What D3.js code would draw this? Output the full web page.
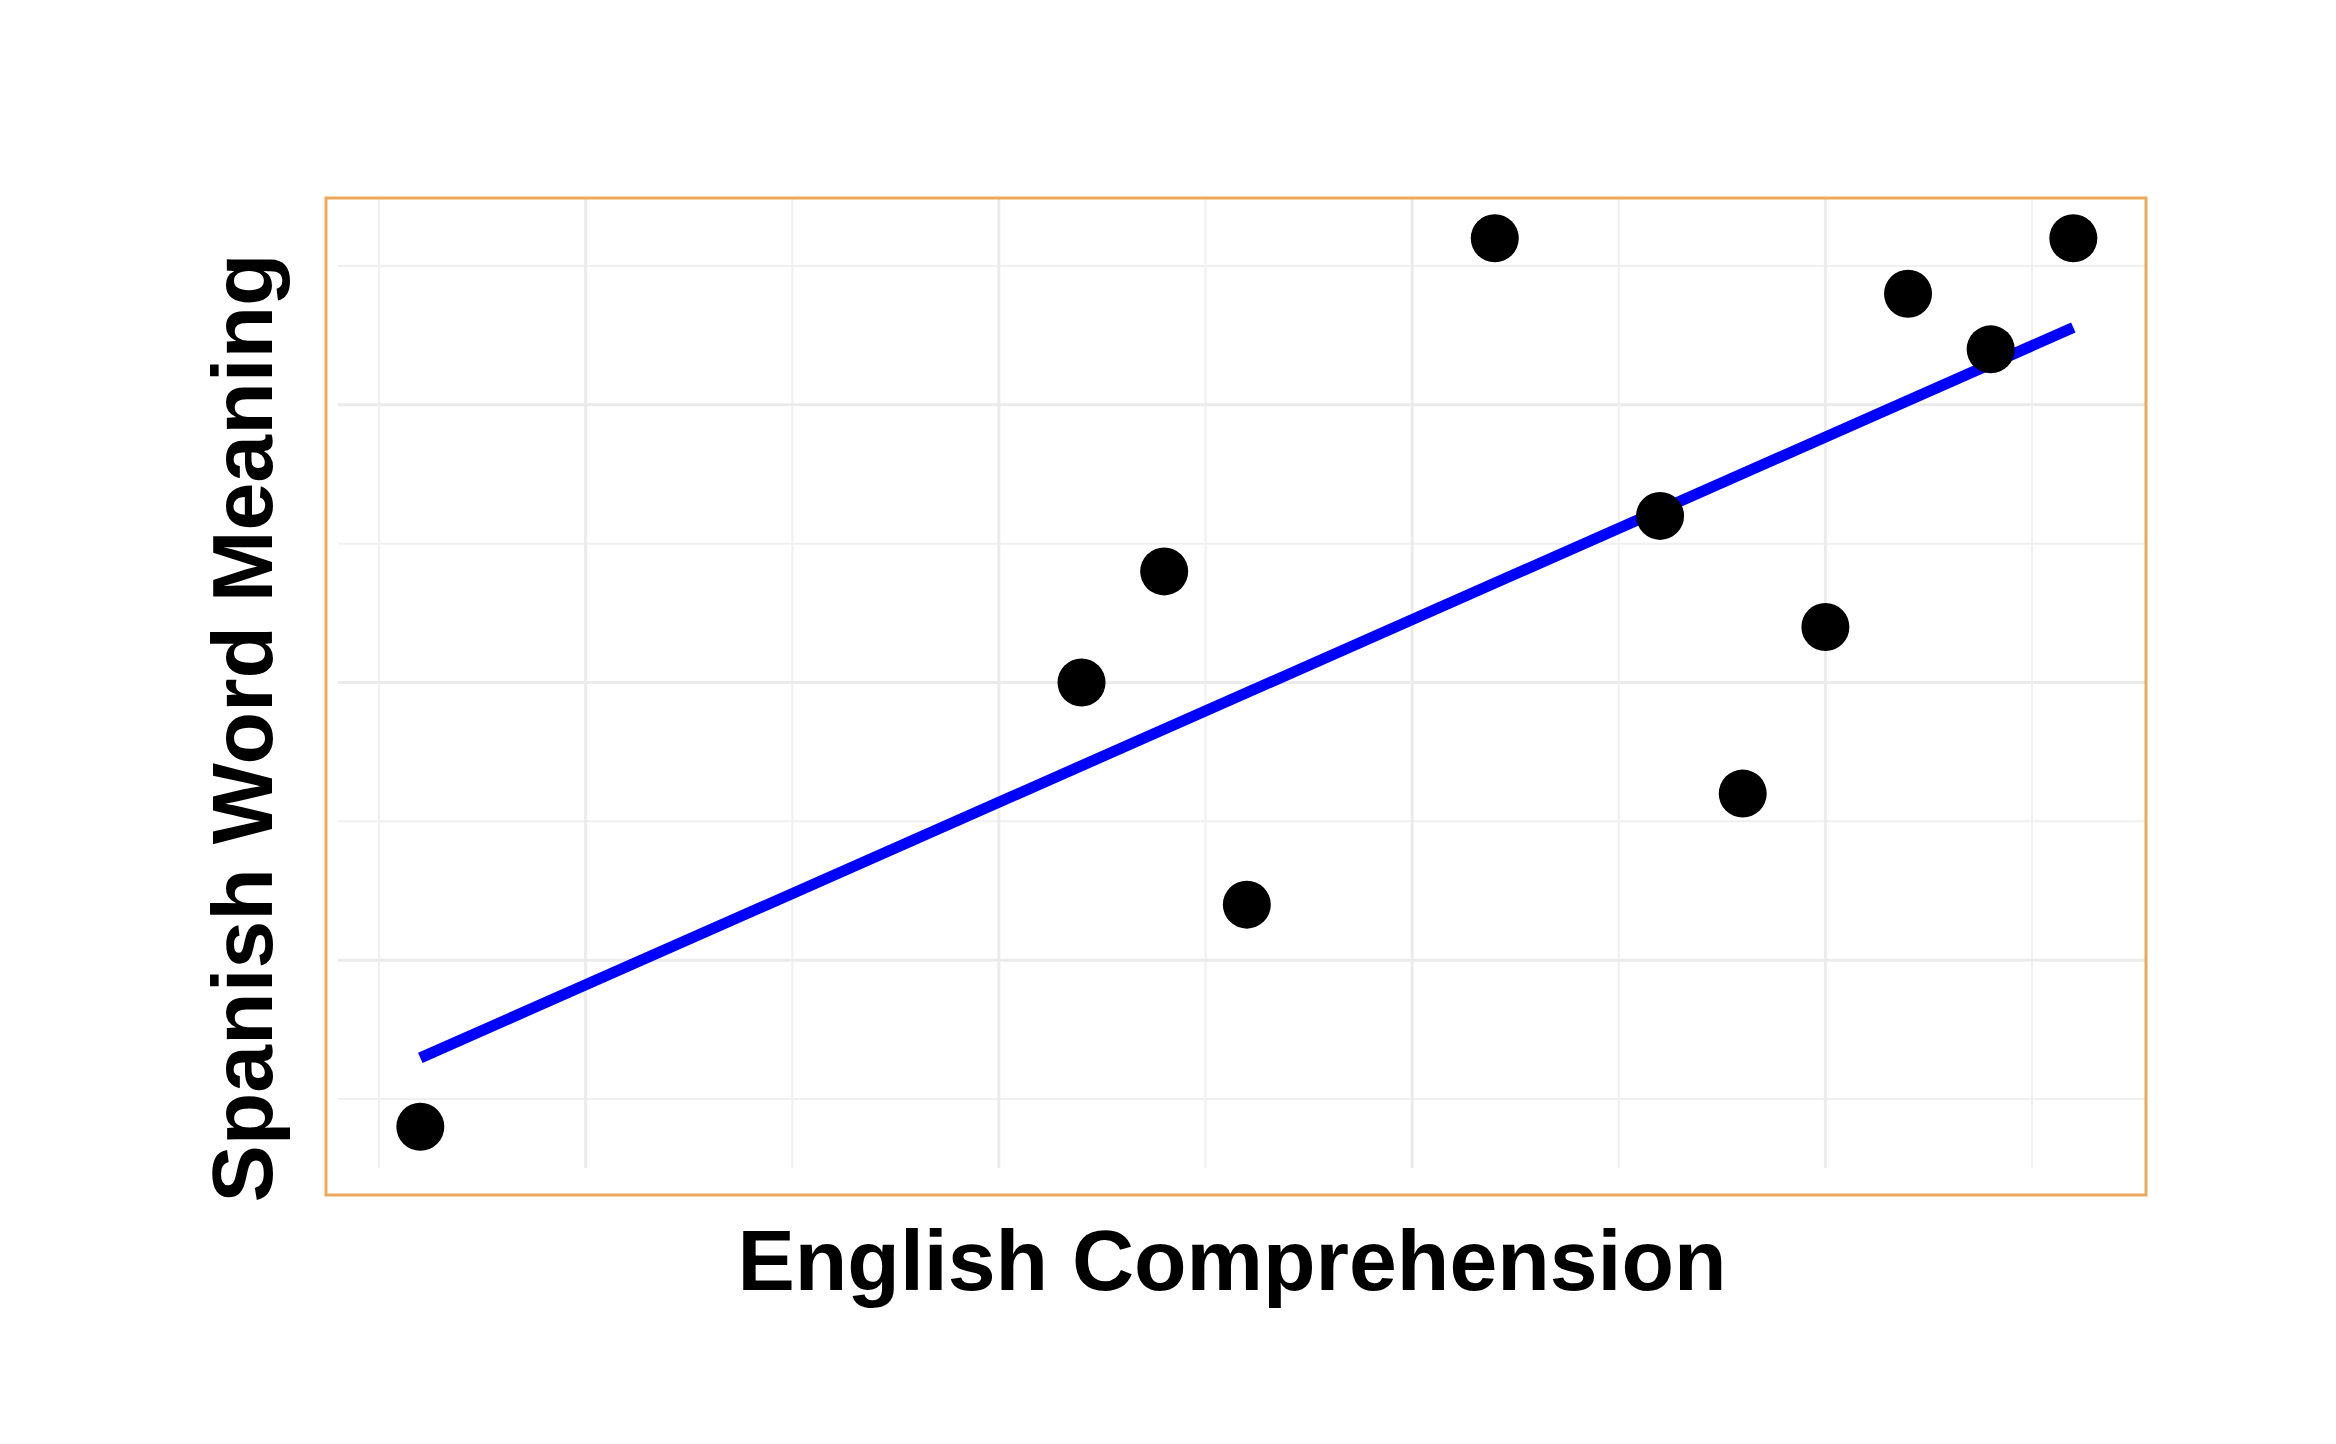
<!DOCTYPE html>
<html>
    <head>
        <meta charset="utf-8">
        <title>English vs Spanish</title>
        <style>
            body { margin: 0; background: #ffffff; }
            .title { font-family: "Liberation Sans", Arial, sans-serif; font-weight: bold; fill: #000000; }
        </style>
    </head>
    <body>
        <div class="wrapper"></div>
        <script src="https://d3js.org/d3.v7.min.js"></script>
        <script>
            // scores
            var english = [12, 44, 48, 52, 64, 72, 76, 80, 84, 88, 92];
            var spanish = [8, 40, 48, 24, 72, 52, 32, 44, 68, 64, 72];
            var xMajor = [20, 40, 60, 80];
            var xMinor = [10, 30, 50, 70, 90];
            var yMajor = [20, 40, 60];
            var yMinor = [10, 30, 50, 70];

            var w = 2336;
            var h = 1444;

            // panel inside the orange frame
            var pLeft = 338, pRight = 2146, pTop = 198, pBottom = 1168;

            var x = d3.scaleLinear().domain([10, 90]).range([379, 2032]);
            var y = d3.scaleLinear().domain([10, 70]).range([1099, 266]);

            var svg = d3.select(".wrapper")
                .append("svg")
                .attr("width", w)
                .attr("height", h);

            var grid = svg.append("g");

            grid.selectAll("line.xminor")
                .data(xMinor)
                .enter()
                .append("line")
                .attr("x1", function(d){ return x(d); })
                .attr("x2", function(d){ return x(d); })
                .attr("y1", pTop)
                .attr("y2", pBottom)
                .attr("stroke", "#f0f0f0")
                .attr("stroke-width", 2);

            grid.selectAll("line.yminor")
                .data(yMinor)
                .enter()
                .append("line")
                .attr("x1", pLeft)
                .attr("x2", pRight)
                .attr("y1", function(d){ return y(d); })
                .attr("y2", function(d){ return y(d); })
                .attr("stroke", "#f0f0f0")
                .attr("stroke-width", 2);

            grid.selectAll("line.xmajor")
                .data(xMajor)
                .enter()
                .append("line")
                .attr("x1", function(d){ return x(d); })
                .attr("x2", function(d){ return x(d); })
                .attr("y1", pTop)
                .attr("y2", pBottom)
                .attr("stroke", "#ebebeb")
                .attr("stroke-width", 3);

            grid.selectAll("line.ymajor")
                .data(yMajor)
                .enter()
                .append("line")
                .attr("x1", pLeft)
                .attr("x2", pRight)
                .attr("y1", function(d){ return y(d); })
                .attr("y2", function(d){ return y(d); })
                .attr("stroke", "#ebebeb")
                .attr("stroke-width", 3);

            // least squares fit
            var mx = d3.mean(english), my = d3.mean(spanish);
            var sxy = d3.sum(english, function(d, i){ return (d - mx) * (spanish[i] - my); });
            var sxx = d3.sum(english, function(d){ return (d - mx) * (d - mx); });
            var slope = sxy / sxx;
            var icpt = my - slope * mx;
            var ends = d3.extent(english);

            svg.append("line")
                .attr("x1", x(ends[0]))
                .attr("y1", y(icpt + slope * ends[0]))
                .attr("x2", x(ends[1]))
                .attr("y2", y(icpt + slope * ends[1]))
                .attr("stroke", "#0000ff")
                .attr("stroke-width", 11)
                .attr("stroke-linecap", "butt");

            svg.selectAll("circle")
                .data(english)
                .enter()
                .append("circle")
                .attr("cx", function(d){ return x(d); })
                .attr("cy", function(d, i){ return y(spanish[i]); })
                .attr("r", 24)
                .attr("fill", "#000000");

            // orange frame
            svg.append("rect")
                .attr("x", 326)
                .attr("y", 198)
                .attr("width", 2146 - 326)
                .attr("height", 1195 - 198)
                .attr("fill", "none")
                .attr("stroke", "#eda95b")
                .attr("stroke-width", 3);

            svg.append("text")
                .attr("class", "title")
                .attr("x", 1232)
                .attr("y", 1290)
                .attr("text-anchor", "middle")
                .attr("font-size", 86)
                .text("English Comprehension");

            svg.append("text")
                .attr("class", "title")
                .attr("transform", "translate(272,728) rotate(-90)")
                .attr("text-anchor", "middle")
                .attr("font-size", 86)
                .text("Spanish Word Meaning");
        </script>
    </body>
</html>
